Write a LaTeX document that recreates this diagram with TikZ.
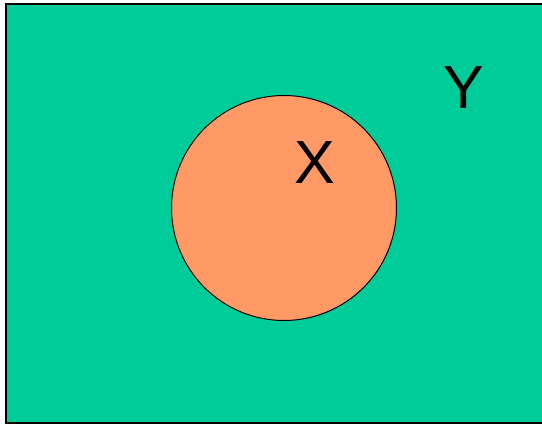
\documentclass[tikz,border=0pt]{standalone}
\usepackage{fontspec}
\setmainfont{Liberation Sans}
\usetikzlibrary{positioning}

\definecolor{setgreen}{HTML}{00CC99}
\definecolor{setorange}{HTML}{FF9966}

\tikzset{
  setlabel/.style={font=\fontsize{61}{61}\selectfont, inner sep=0pt}
}

\begin{document}
\begin{tikzpicture}[x=1pt, y=-1pt]
  \useasboundingbox (0,0) rectangle (542,425);

  % Universe Y
  \fill[setgreen] (6,4) rectangle (545,423);
  \draw[line width=2pt] (545,4) -- (6,4) -- (6,423) -- (545,423);
  \node[setlabel] (y) at (464,88) {Y};

  % Subset X
  \draw[fill=setorange, line width=1pt] (284,208) circle (112.5);
  \node[setlabel] (x) at (314.5,163) {X};
\end{tikzpicture}
\end{document}
